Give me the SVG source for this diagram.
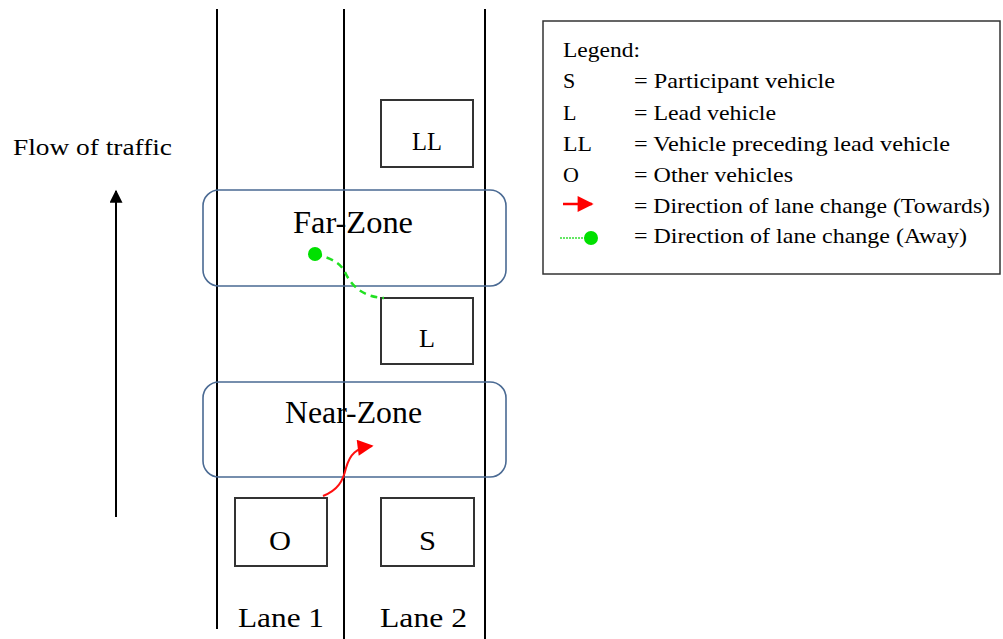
<svg xmlns="http://www.w3.org/2000/svg" width="1003" height="639" viewBox="0 0 1003 639">
  <style>
    .t { font-family: "Liberation Serif", "Times New Roman", serif; fill: #000; }
    .lane { stroke: #000; stroke-width: 2; fill: none; }
    .veh { fill: #fff; stroke: #333; stroke-width: 2; }
    .zone { fill: none; stroke: #4a6a93; stroke-width: 1.6; }
  </style>
  <defs>
    <marker id="blackHead" viewBox="0 0 10 10" refX="9" refY="5" markerWidth="16" markerHeight="13" markerUnits="userSpaceOnUse" orient="auto">
      <path d="M0,0 L10,5 L0,10 Z" fill="#000"/>
    </marker>
    <marker id="redHead" viewBox="0 0 10 10" refX="9" refY="5" markerWidth="17" markerHeight="16" markerUnits="userSpaceOnUse" orient="auto">
      <path d="M0,0 L10,5 L0,10 Z" fill="#ff0000"/>
    </marker>
  </defs>

  <rect width="1003" height="639" fill="#fff"/>

  <!-- lane boundaries -->
  <g id="lanes">
    <line class="lane" x1="217" y1="9" x2="217" y2="629"/>
    <line class="lane" x1="344" y1="9" x2="344" y2="639"/>
    <line class="lane" x1="485" y1="9" x2="485" y2="639"/>
  </g>

  <!-- zones -->
  <g id="far-zone">
    <rect class="zone" x="203" y="190" width="303" height="96" rx="16"/>
    <text class="t" x="293" y="233" font-size="31" textLength="120" lengthAdjust="spacingAndGlyphs">Far-Zone</text>
  </g>
  <g id="near-zone">
    <rect class="zone" x="203" y="382" width="303" height="95" rx="16"/>
    <text class="t" x="285" y="423" font-size="31" textLength="137" lengthAdjust="spacingAndGlyphs">Near-Zone</text>
  </g>

  <!-- vehicles -->
  <g id="vehicle-LL">
    <rect class="veh" x="381" y="100" width="92" height="67"/>
    <text class="t" x="412" y="150" font-size="25" textLength="30" lengthAdjust="spacingAndGlyphs">LL</text>
  </g>
  <g id="vehicle-L">
    <rect class="veh" x="381" y="298" width="92" height="66"/>
    <text class="t" x="419" y="347" font-size="25" textLength="16" lengthAdjust="spacingAndGlyphs">L</text>
  </g>
  <g id="vehicle-O">
    <rect class="veh" x="235" y="498" width="92" height="68"/>
    <text class="t" x="269" y="550" font-size="28" textLength="22" lengthAdjust="spacingAndGlyphs">O</text>
  </g>
  <g id="vehicle-S">
    <rect class="veh" x="381" y="498" width="93" height="68"/>
    <text class="t" x="419" y="550" font-size="28" textLength="17" lengthAdjust="spacingAndGlyphs">S</text>
  </g>

  <!-- lane labels -->
  <g id="lane-labels">
    <text class="t" x="238" y="627" font-size="28" textLength="86" lengthAdjust="spacingAndGlyphs">Lane 1</text>
    <text class="t" x="380" y="627" font-size="28" textLength="87" lengthAdjust="spacingAndGlyphs">Lane 2</text>
  </g>

  <!-- traffic direction -->
  <g id="flow">
    <text class="t" x="13" y="155" font-size="23" textLength="159" lengthAdjust="spacingAndGlyphs">Flow of traffic</text>
  </g>

  <!-- connectors -->
  <g id="connectors">
    <line x1="116" y1="517" x2="116" y2="191" stroke="#000" stroke-width="2" marker-end="url(#blackHead)"/>
    <path d="M315,254 C330,258 340,262 345,272 C352,288 365,297 384,298" fill="none" stroke="#22e022" stroke-width="2.5" stroke-dasharray="7,5"/>
    <circle cx="315" cy="254" r="7" fill="#00e000"/>
    <path d="M323,496 C338,490 343,481 346,468 C350,454 356,448 372,446" fill="none" stroke="#ff1010" stroke-width="2" marker-end="url(#redHead)"/>
  </g>

  <!-- legend -->
  <g id="legend">
    <rect x="543" y="21" width="457" height="253" fill="#fff" stroke="#333" stroke-width="1.5"/>
    <g class="t" font-size="22">
      <text x="563" y="57" textLength="77" lengthAdjust="spacingAndGlyphs">Legend:</text>
      <text x="563" y="88">S</text>
      <text x="634" y="88" textLength="201" lengthAdjust="spacingAndGlyphs">= Participant vehicle</text>
      <text x="563" y="120">L</text>
      <text x="634" y="120" textLength="142" lengthAdjust="spacingAndGlyphs">= Lead vehicle</text>
      <text x="563" y="151" textLength="29" lengthAdjust="spacingAndGlyphs">LL</text>
      <text x="634" y="151" textLength="316" lengthAdjust="spacingAndGlyphs">= Vehicle preceding lead vehicle</text>
      <text x="563" y="182">O</text>
      <text x="634" y="182" textLength="159" lengthAdjust="spacingAndGlyphs">= Other vehicles</text>
      <text x="634" y="213" textLength="356" lengthAdjust="spacingAndGlyphs">= Direction of lane change (Towards)</text>
      <text x="634" y="243" textLength="333" lengthAdjust="spacingAndGlyphs">= Direction of lane change (Away)</text>
    </g>
    <line x1="563" y1="204" x2="592" y2="204" stroke="#ff0000" stroke-width="2.5" marker-end="url(#redHead)"/>
    <line x1="560" y1="238" x2="585" y2="238" stroke="#33e033" stroke-width="1.5" stroke-dasharray="2,1"/>
    <circle cx="591" cy="238" r="7" fill="#00e000"/>
  </g>
</svg>
